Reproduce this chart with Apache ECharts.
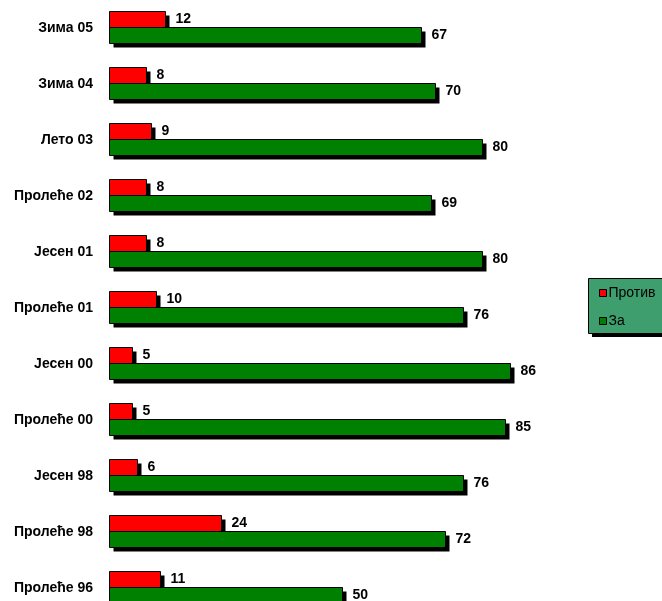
<!DOCTYPE html>
<html><head><meta charset="utf-8">
<script src="https://cdn.jsdelivr.net/npm/echarts@6/dist/echarts.min.js"></script>
<style>html,body{margin:0;padding:0;background:#fff}#c{width:662px;height:601px}</style>
</head><body><div id="c"></div>
<script>
const categories = ['Зима 05','Зима 04','Лето 03','Пролеће 02','Јесен 01','Пролеће 01','Јесен 00','Пролеће 00','Јесен 98','Пролеће 98','Пролеће 96'];
const protiv = [12, 8, 9, 8, 8, 10, 5, 5, 6, 24, 11];
const za = [67, 70, 80, 69, 80, 76, 86, 85, 76, 72, 50];

const font = 'Liberation Sans, Arial, sans-serif';

function makeRender(color, side) {
  return function (params, api) {
    const v = api.value(1);
    const cat = api.value(0);
    const p0 = api.coord([0, cat]);
    const p1 = api.coord([v, cat]);
    const bw = 16;
    const x = Math.round(p0[0]) + 0.5;
    const w = Math.round(p1[0]) - Math.round(p0[0]);
    const cy = Math.round(p0[1]) - 1;
    const y = (side < 0 ? cy - bw : cy) + 0.5;
    return {
      type: 'group',
      children: [
        {type: 'rect', shape: {x: x + 4, y: y + 4, width: w, height: bw}, style: {fill: '#000'}},
        {type: 'rect', shape: {x: x, y: y, width: w, height: bw}, style: {fill: color, stroke: '#000', lineWidth: 1}},
        {type: 'text', x: x + w + 10, y: y + bw / 2, style: {text: String(v), fill: '#000', font: 'bold 14px ' + font, verticalAlign: 'middle', textAlign: 'left'}}
      ]
    };
  };
}

const chart = echarts.init(document.getElementById('c'));
chart.setOption({
  animation: false,
  backgroundColor: '#fff',
  grid: {left: 109, top: 0, width: 466, height: 616, containLabel: false, outerBoundsMode: 'none'},
  xAxis: {type: 'value', min: 0, max: 100, show: false},
  yAxis: {type: 'category', data: categories, inverse: true,
    axisLine: {show: false}, axisTick: {show: false}, splitLine: {show: false},
    axisLabel: {margin: 16, color: '#000', fontFamily: font, fontWeight: 'bold', fontSize: 14}},
  graphic: [
    {type: 'rect', z: 0, shape: {x: 592, y: 282, width: 80, height: 55}, style: {fill: '#000'}},
    {type: 'rect', z: 0, shape: {x: 588.5, y: 278.5, width: 80, height: 55}, style: {fill: '#3E9E6E', stroke: '#000', lineWidth: 1}}
  ],
  legend: {orient: 'vertical', left: 593, top: 286, z: 10,
    padding: [0, 0, 0, 6], itemGap: 14, itemWidth: 7, itemHeight: 7, icon: 'rect',
    itemStyle: {borderColor: '#000', borderWidth: 1},
    textStyle: {color: '#000', fontFamily: font, fontSize: 14, padding: [0, 0, 0, -3]},
    data: ['Против', 'За']},
  series: [
    {name: 'Против', type: 'custom', itemStyle: {color: '#FF0000'},
      encode: {x: 1, y: 0},
      data: protiv.map((v, i) => [i, v]), renderItem: makeRender('#FF0000', -1)},
    {name: 'За', type: 'custom', itemStyle: {color: '#008000'},
      encode: {x: 1, y: 0},
      data: za.map((v, i) => [i, v]), renderItem: makeRender('#008000', 1)}
  ]
});
</script></body></html>
